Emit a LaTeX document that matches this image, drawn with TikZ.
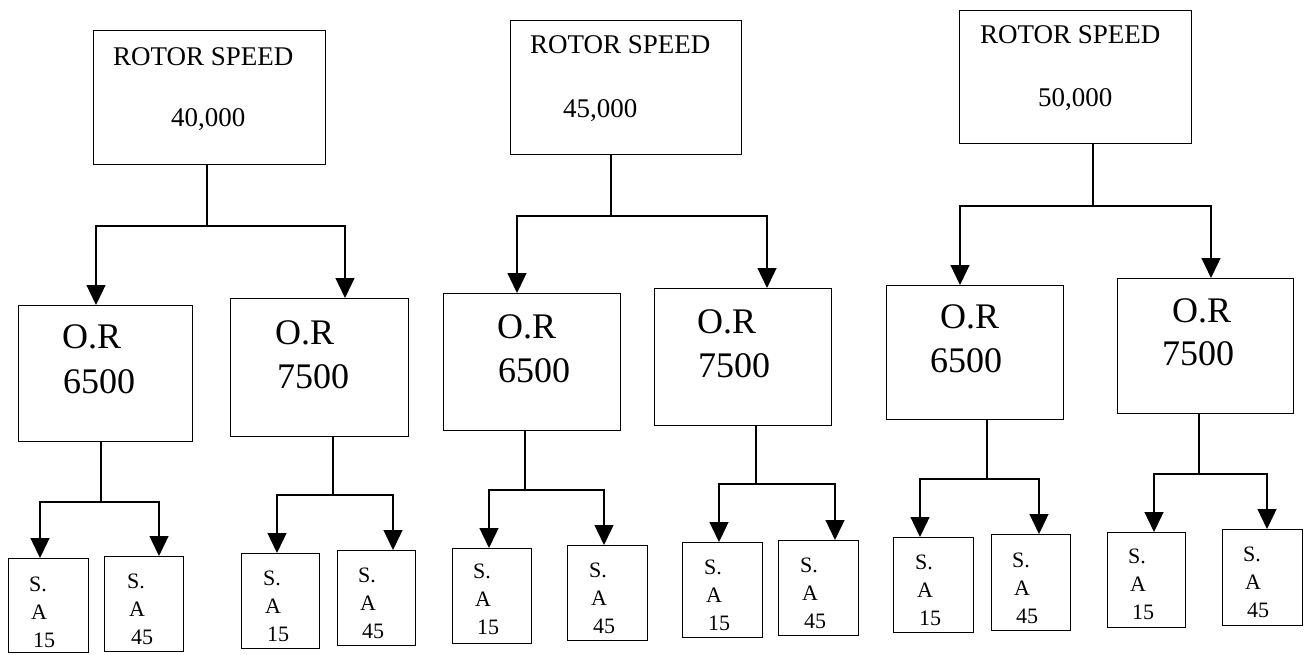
\documentclass[tikz,border=0pt]{standalone}
\usepackage{fontspec}
\setmainfont{Liberation Serif}
\usetikzlibrary{arrows.meta}
\begin{document}
\begin{tikzpicture}[x=1pt,y=-1pt,
  lw/.style={line width=1.3pt},
  box/.style={draw, line width=1.3pt, inner sep=0pt, anchor=north west},
  arr/.style={line width=1.3pt, -{Triangle[width=19pt,length=20pt]}},
  txt/.style={inner sep=0pt, anchor=base west},
  big/.style={txt, font=\fontsize{27}{32}\selectfont},
  mid/.style={txt, font=\fontsize{36}{42}\selectfont},
  sml/.style={txt, font=\fontsize{22}{26}\selectfont}]
\useasboundingbox (0,0) rectangle (1311,654);

% ---- top boxes
\node[box, minimum width=232pt, minimum height=134pt] (t1) at (93,30) {};
\node[box, minimum width=231pt, minimum height=134pt] (t2) at (510,20) {};
\node[box, minimum width=232pt, minimum height=133pt] (t3) at (959,10) {};
\node[big] (t1a) at (113,65) {ROTOR SPEED};
\node[big] (t1b) at (171,126) {40,000};
\node[big] (t2a) at (530,53) {ROTOR SPEED};
\node[big] (t2b) at (563,117) {45,000};
\node[big] (t3a) at (980,43) {ROTOR SPEED};
\node[big] (t3b) at (1038,106) {50,000};

% ---- O.R boxes
\foreach \i/\x/\y/\w/\h in {1/18/305/174/136, 2/230/298/178/138, 3/443/293/177/137,
    4/654/288/177/137, 5/886/285/177/134, 6/1117/278/176/135} {
  \node[box, minimum width=\w pt, minimum height=\h pt] (or\i) at (\x,\y) {};
}
\foreach \i/\ax/\ay/\bx/\by/\v in {1/62/348/63/393/6500, 2/275/344/277/388/7500,
    3/497/338/498/382/6500, 4/697/333/698/377/7500, 5/940/328/930/372/6500,
    6/1172/322/1162/365/7500} {
  \node[mid] (ora\i) at (\ax,\ay) {O.R};
  \node[mid] (orb\i) at (\bx,\by) {\v};
}

% ---- S.A boxes
\foreach \i/\x/\y/\w/\h/\tx/\ty/\v in {1/8/558/80/94/29/591/15, 2/104/556/79/95/127/588/45,
    3/241/553/78/95/263/585/15, 4/337/550/78/95/358/582/45,
    5/452/548/79/95/473/578/15, 6/567/545/80/95/589/577/45,
    7/682/542/80/95/704/574/15, 8/778/540/80/95/800/572/45,
    9/893/537/80/95/915/569/15, 10/991/534/79/96/1012/567/45,
    11/1107/532/78/95/1128/563/15, 12/1222/529/80/96/1243/561/45} {
  \node[box, minimum width=\w pt, minimum height=\h pt] (sa\i) at (\x,\y) {};
  \node[sml] (sas\i) at (\tx,\ty) {S.};
  \node[sml] (saa\i) at (\tx+2,\ty+28) {A};
  \node[sml] (san\i) at (\tx+4,\ty+56) {\v};
}

% ---- connectors top -> O.R
\foreach \p/\kx/\ky/\a/\da/\b/\db in {t1/207/226/1/78/2/115, t2/611/216/3/74/4/113,
    t3/1093/206/5/74/6/94} {
  \coordinate (j\p) at (\kx,\ky);
  \draw[lw] (j\p |- \p.south) -- (j\p);
  \draw[arr] (j\p) -| ([xshift=\da pt]or\a.north west);
  \draw[arr] (j\p) -| ([xshift=\db pt]or\b.north west);
}

% ---- connectors O.R -> S.A
\foreach \p/\kx/\ky/\a/\da/\b/\db in {or1/101/502/1/32/2/55, or2/333/495/3/36/4/56,
    or3/525/490/5/37/6/37, or4/756/484/7/37/8/57, or5/987/479/9/27/10/48,
    or6/1199/474/11/47/12/45} {
  \coordinate (k\p) at (\kx,\ky);
  \draw[lw] (k\p |- \p.south) -- (k\p);
  \draw[arr] (k\p) -| ([xshift=\da pt]sa\a.north west);
  \draw[arr] (k\p) -| ([xshift=\db pt]sa\b.north west);
}
\end{tikzpicture}
\end{document}
